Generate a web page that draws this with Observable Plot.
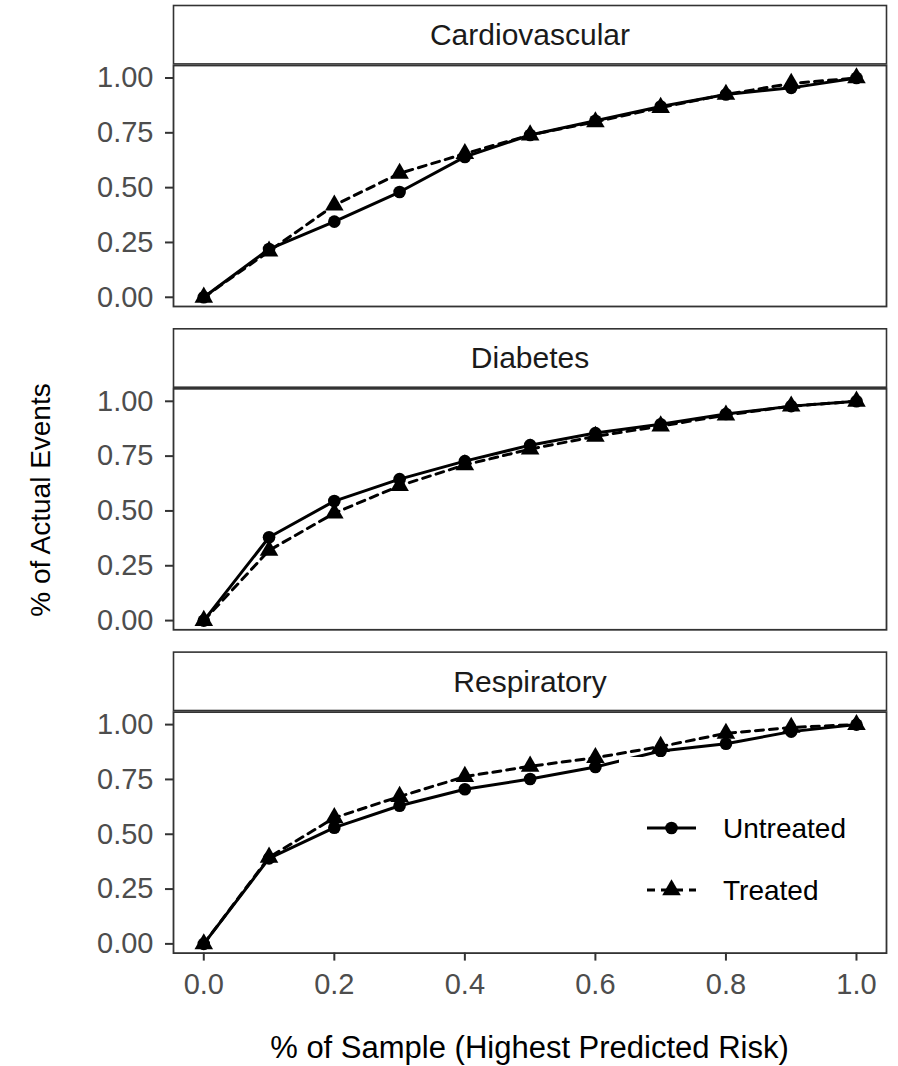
<!DOCTYPE html>
<html>
<head>
<meta charset="utf-8">
<script src="https://cdn.jsdelivr.net/npm/d3@7"></script>
<script src="https://cdn.jsdelivr.net/npm/@observablehq/plot@0.6"></script>
<style>
  html, body { margin: 0; padding: 0; background: #fff; }
  #wrap { position: relative; width: 898px; height: 1066px; font-family: "Liberation Sans", Arial, Helvetica, sans-serif; }
  #wrap svg.ov { position: absolute; left: 0; top: 0; pointer-events: none; }
</style>
</head>
<body>
<div id="wrap"></div>
<script>
// ---- data ----
const panels = ["Cardiovascular", "Diabetes", "Respiratory"];
const groups = ["Untreated", "Treated"];
const sampleShare = [0, 0.1, 0.2, 0.3, 0.4, 0.5, 0.6, 0.7, 0.8, 0.9, 1.0];

const cardioUntreated = [0, 0.22, 0.345, 0.48, 0.64, 0.74, 0.805, 0.87, 0.925, 0.955, 1.0];
const cardioTreated   = [0, 0.21, 0.42, 0.565, 0.655, 0.74, 0.80, 0.865, 0.925, 0.975, 1.0];
const diabUntreated   = [0, 0.38, 0.545, 0.645, 0.727, 0.80, 0.855, 0.895, 0.942, 0.978, 1.0];
const diabTreated     = [0, 0.32, 0.49, 0.615, 0.71, 0.782, 0.84, 0.887, 0.937, 0.978, 1.0];
const respUntreated   = [0, 0.39, 0.53, 0.63, 0.705, 0.752, 0.807, 0.88, 0.913, 0.968, 1.0];
const respTreated     = [0, 0.395, 0.575, 0.672, 0.763, 0.81, 0.849, 0.90, 0.96, 0.987, 1.0];

const xTicks = [0, 0.2, 0.4, 0.6, 0.8, 1.0];
const yTicks = [0, 0.25, 0.5, 0.75, 1.0];
const xTitle = "% of Sample (Highest Predicted Risk)";
const yTitle = "% of Actual Events";

// ---- table ----
const series = {
  Cardiovascular: { Untreated: cardioUntreated, Treated: cardioTreated },
  Diabetes:       { Untreated: diabUntreated,   Treated: diabTreated },
  Respiratory:    { Untreated: respUntreated,   Treated: respTreated }
};
const rows = [];
for (const p of panels) for (const g of groups)
  series[p][g].forEach((v, i) => rows.push({ panel: p, group: g, x: sampleShare[i], y: v }));
const untreated = rows.filter(d => d.group === "Untreated");
const treated = rows.filter(d => d.group === "Treated");

// ---- layout ----
const W = 898, H = 1066, mT = 65, mB = 113.4, mL = 173, mR = 12;
const padInner = 0.2546;
const L = H - mT - mB;
const step = L / (panels.length - padInner);
const band = step * (1 - padInner);
const stripH = 60;
const FONT = '"Liberation Sans", Arial, Helvetica, sans-serif';
const lineW = 3, dash = "8,6", rCircle = 6.3, rTri = 6.9;

const chart = Plot.plot({
  width: W, height: H,
  marginTop: mT, marginBottom: mB, marginLeft: mL, marginRight: mR,
  style: { fontFamily: FONT, background: "#fff", overflow: "visible" },
  x: { domain: [-0.0464, 1.046] },
  y: { domain: [-0.042, 1.057] },
  fy: { domain: panels, paddingInner: padInner, paddingOuter: 0, axis: null, round: false },
  marks: [
    Plot.frame({ stroke: "#333", strokeWidth: 1.6, fill: "#fff", insetTop: -stripH, insetBottom: band + 1.6 }),
    Plot.text(panels, { fy: d => d, text: d => d, frameAnchor: "top", dy: -stripH / 2, fontSize: 30, fill: "#1a1a1a", lineAnchor: "middle" }),
    Plot.line(untreated, { x: "x", y: "y", fy: "panel", stroke: "black", strokeWidth: lineW }),
    Plot.line(treated, { x: "x", y: "y", fy: "panel", stroke: "black", strokeWidth: lineW, strokeDasharray: dash }),
    Plot.dot(untreated, { x: "x", y: "y", fy: "panel", symbol: "circle", fill: "black", r: rCircle }),
    Plot.dot(treated, { x: "x", y: "y", fy: "panel", symbol: "triangle", fill: "black", r: rTri }),
    Plot.frame({ stroke: "#333", strokeWidth: 1.8 }),
    Plot.axisY({ ticks: yTicks, tickFormat: d3.format(".2f"), tickSize: 8, tickPadding: 12, fontSize: 29, fill: "#4d4d4d", stroke: "#333", strokeWidth: 2, label: null }),
    Plot.axisX({ ticks: xTicks, tickFormat: d3.format(".1f"), tickSize: 8, tickPadding: 12, fontSize: 29, fill: "#4d4d4d", stroke: "#333", strokeWidth: 2, label: null })
  ]
});
const wrap = document.getElementById("wrap");
wrap.appendChild(chart);

// ---- overlay: titles + legend ----
const ov = d3.select(wrap).append("svg").attr("class", "ov")
  .attr("width", W).attr("height", H).attr("viewBox", `0 0 ${W} ${H}`)
  .style("font-family", FONT);

ov.append("text").attr("x", mL + (W - mL - mR) / 2).attr("y", 1058)
  .attr("text-anchor", "middle").attr("font-size", 31).attr("fill", "#000").text(xTitle);
ov.append("text").attr("transform", "translate(50,500) rotate(-90)")
  .attr("text-anchor", "middle").attr("font-size", 28).attr("fill", "#000").text(yTitle);

const lg = ov.append("g");
lg.append("rect").attr("x", 619).attr("y", 757).attr("width", 245).attr("height", 165).attr("fill", "#fff");
groups.forEach((g, i) => {
  const cy = 828 + i * 62;
  lg.append("line").attr("x1", 647).attr("x2", 696).attr("y1", cy).attr("y2", cy)
    .attr("stroke", "black").attr("stroke-width", lineW)
    .attr("stroke-dasharray", g === "Treated" ? dash : null);
  if (g === "Untreated") {
    lg.append("circle").attr("cx", 671.5).attr("cy", cy).attr("r", rCircle).attr("fill", "black");
  } else {
    lg.append("path").attr("transform", `translate(671.5,${cy})`)
      .attr("d", d3.symbol(d3.symbolTriangle, Math.PI * rTri * rTri)()).attr("fill", "black");
  }
  lg.append("text").attr("x", 723).attr("y", cy).attr("dy", "0.36em")
    .attr("font-size", 28).attr("fill", "#000").text(g);
});
</script>
</body>
</html>
